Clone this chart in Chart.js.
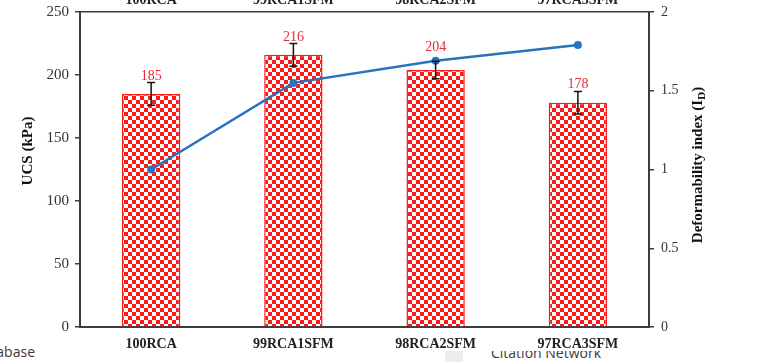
<!DOCTYPE html>
<html>
<head>
<meta charset="utf-8">
<script src="https://cdn.jsdelivr.net/npm/chart.js@4.4.1/dist/chart.umd.min.js"></script>
<style>
  html, body { margin: 0; padding: 0; background: #fff; overflow: hidden; }
  body { width: 773px; height: 362px; position: relative; }
  #wrap { position: absolute; left: 0; top: -12px; width: 773px; height: 374px; }
  .web { position: absolute; font-family: "Open Sans", sans-serif; font-size: 14px; color: #3a3a3a; white-space: nowrap; }
  #db { right: 738px; top: 342px; }
  #cnClip { position: absolute; left: 480px; top: 351px; width: 160px; height: 11px; overflow: hidden; }
  #cn { left: 11px; top: -8px; }
  #grey { position: absolute; left: 445px; top: 351px; width: 18px; height: 11px; background: #ececec; }
</style>
</head>
<body>
<span class="web" id="db">Database</span>
<div id="grey"></div>
<div id="cnClip"><span class="web" id="cn">Citation Network</span></div>
<div id="wrap"><canvas id="c"></canvas></div>
<script>
// Mix proportions tested
const categories = ['100RCA', '99RCA1SFM', '98RCA2SFM', '97RCA3SFM'];
// Unconfined compressive strength (kPa) and its spread
const ucs = [185, 216, 204, 178];
const ucsError = [9, 9, 7, 9];
// Deformability index I_D
const deformability = [1.0, 1.55, 1.69, 1.79];

const SERIF = '"Liberation Serif", "Times New Roman", serif';
const AXIS = '#3d3d3d';
const RED = '#ff1a1a';
const LABEL_RED = '#e32b3b';
const BLUE = '#2a72be';

const canvas = document.getElementById('c');
const ctx0 = canvas.getContext('2d');

// red / white checkerboard fill for the bars
function checkerboard(ctx) {
  const cell = 4;
  const tile = document.createElement('canvas');
  tile.width = tile.height = cell * 2;
  const g = tile.getContext('2d');
  g.fillStyle = '#ffffff';
  g.fillRect(0, 0, cell * 2, cell * 2);
  g.fillStyle = RED;
  g.fillRect(0, 0, cell, cell);
  g.fillRect(cell, cell, cell, cell);
  return ctx.createPattern(tile, 'repeat');
}

// error bars and value labels on top of the UCS bars
const barDecor = {
  id: 'barDecor',
  afterDatasetsDraw(chart) {
    const ctx = chart.ctx;
    const y = chart.scales.y;
    const bars = chart.getDatasetMeta(0).data;
    const pts = chart.getDatasetMeta(1).data;
    ctx.save();
    bars.forEach((bar, i) => {
      const hi = y.getPixelForValue(ucs[i] + ucsError[i]);
      const lo = y.getPixelForValue(ucs[i] - ucsError[i]);
      ctx.strokeStyle = '#111';
      ctx.lineWidth = 1.5;
      ctx.beginPath();
      ctx.moveTo(bar.x, hi); ctx.lineTo(bar.x, lo);
      ctx.moveTo(bar.x - 4, hi); ctx.lineTo(bar.x + 4, hi);
      ctx.moveTo(bar.x - 4, lo); ctx.lineTo(bar.x + 4, lo);
      ctx.stroke();
    });
    ctx.fillStyle = LABEL_RED;
    ctx.font = '14px ' + SERIF;
    ctx.textAlign = 'center';
    ctx.textBaseline = 'alphabetic';
    bars.forEach((bar, i) => {
      let base = y.getPixelForValue(ucs[i] + ucsError[i]) - 3;
      const p = pts[i];
      if (p && p.y > base - 14 && p.y < base + 8) base = Math.min(base, p.y - 10);
      ctx.fillText(String(ucs[i]), bar.x, base);
    });
    ctx.restore();
  }
};

// rotated axis titles (right one carries a subscript)
const axisTitles = {
  id: 'axisTitles',
  afterDraw(chart) {
    const ctx = chart.ctx;
    ctx.save();
    ctx.fillStyle = '#111';
    ctx.textBaseline = 'middle';
    ctx.font = 'bold 15px ' + SERIF;
    ctx.translate(28, 163);
    ctx.rotate(-Math.PI / 2);
    ctx.textAlign = 'center';
    ctx.fillText('UCS (kPa)', 0, 0);
    ctx.restore();

    ctx.save();
    ctx.fillStyle = '#111';
    ctx.textBaseline = 'middle';
    const main = 'Deformability index (I';
    const sub = 'D';
    const tail = ')';
    const bigFont = 'bold 15px ' + SERIF;
    const subFont = 'bold 11px ' + SERIF;
    ctx.font = bigFont;
    const w1 = ctx.measureText(main).width;
    const w3 = ctx.measureText(tail).width;
    ctx.font = subFont;
    const w2 = ctx.measureText(sub).width;
    const total = w1 + w2 + w3;
    ctx.translate(698, 177);
    ctx.rotate(-Math.PI / 2);
    ctx.textAlign = 'left';
    let x = -total / 2;
    ctx.font = bigFont;
    ctx.fillText(main, x, 0);
    x += w1;
    ctx.font = subFont;
    ctx.fillText(sub, x, 4);
    x += w2;
    ctx.font = bigFont;
    ctx.fillText(tail, x, 0);
    ctx.restore();
  }
};

new Chart(canvas, {
  data: {
    labels: categories,
    datasets: [
      {
        type: 'bar',
        label: 'UCS',
        data: ucs,
        xAxisID: 'x',
        yAxisID: 'y',
        backgroundColor: checkerboard(ctx0),
        borderColor: RED,
        borderWidth: 1.5,
        categoryPercentage: 1,
        barPercentage: 0.41,
        order: 2
      },
      {
        type: 'line',
        label: 'ID',
        data: deformability,
        xAxisID: 'x',
        yAxisID: 'y1',
        borderColor: BLUE,
        backgroundColor: BLUE,
        borderWidth: 2.5,
        pointRadius: 4,
        pointBackgroundColor: BLUE,
        pointBorderWidth: 0,
        tension: 0,
        order: 1
      }
    ]
  },
  options: {
    responsive: true,
    maintainAspectRatio: false,
    devicePixelRatio: 1,
    animation: false,
    layout: { padding: 0 },
    plugins: { legend: { display: false }, tooltip: { enabled: false } },
    scales: {
      x: {
        type: 'category',
        position: 'bottom',
        offset: true,
        afterFit(s) { s.height = 35; },
        grid: { display: false, drawTicks: false },
        border: { display: true, color: AXIS, width: 2 },
        ticks: { color: '#222', padding: 9, font: { family: SERIF, size: 14, weight: 'bold' } }
      },
      xTop: {
        type: 'category',
        position: 'top',
        offset: true,
        afterFit(s) { s.height = 24; },
        grid: { display: false, drawTicks: false },
        border: { display: true, color: AXIS, width: 1.5 },
        ticks: { color: '#222', padding: 3, font: { family: SERIF, size: 14, weight: 'bold' } }
      },
      y: {
        position: 'left',
        min: 0,
        max: 250,
        afterFit(s) { s.width = 80; },
        grid: { drawOnChartArea: false, drawTicks: true, tickLength: 5, color: AXIS, lineWidth: 1.5 },
        border: { display: true, color: AXIS, width: 2 },
        ticks: { stepSize: 50, color: '#333', padding: 6, font: { family: SERIF, size: 15 } }
      },
      y1: {
        position: 'right',
        min: 0,
        max: 2,
        afterFit(s) { s.width = 124; },
        grid: { drawOnChartArea: false, drawTicks: true, tickLength: 5, color: AXIS, lineWidth: 1.5 },
        border: { display: true, color: AXIS, width: 2 },
        ticks: {
          stepSize: 0.5, color: '#333', padding: 7, font: { family: SERIF, size: 14 },
          callback: (v) => String(v)
        }
      }
    }
  },
  plugins: [barDecor, axisTitles]
});
</script>
</body>
</html>
